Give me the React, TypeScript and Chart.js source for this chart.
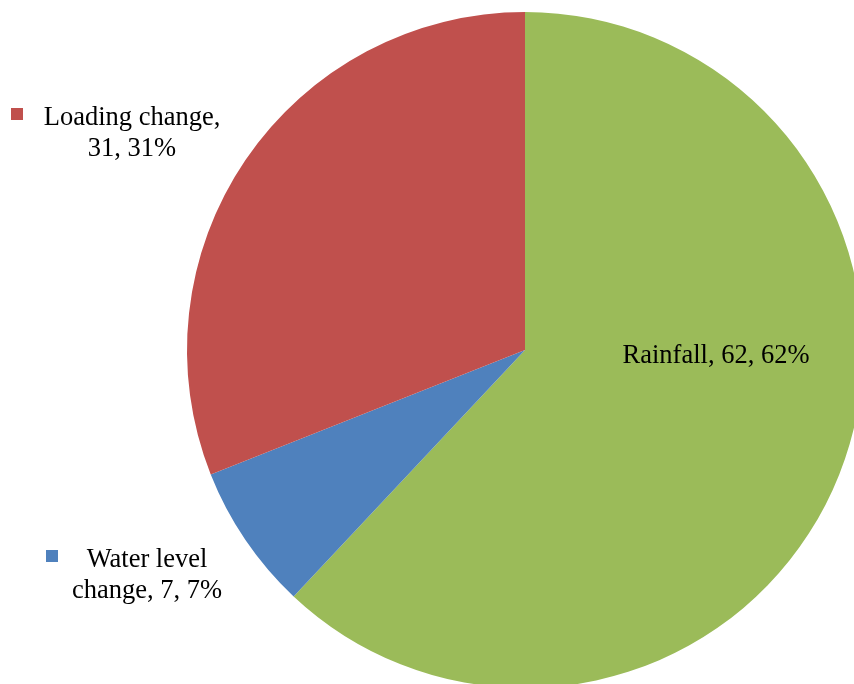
import React, { useEffect, useRef } from "react";
import { Chart, registerables } from "chart.js";

Chart.register(...registerables);

const categories = ["Rainfall", "Water level change", "Loading change"];
const values = [62, 7, 31];
const percents = [62, 7, 31];
const colors = ["#9BBB59", "#4F81BD", "#C0504D"];

type LabelSpec = { lines: string[]; cx: number; cy: number; marker?: { x: number; y: number } };

const labelSpecs: LabelSpec[] = [
  { lines: [`${categories[0]}, ${values[0]}, ${percents[0]}%`], cx: 716, cy: 356 },
  { lines: ["Water level", `change, ${values[1]}, ${percents[1]}%`], cx: 147, cy: 576, marker: { x: 46, y: 550 } },
  { lines: ["Loading change,", `${values[2]}, ${percents[2]}%`], cx: 132, cy: 134, marker: { x: 11, y: 108 } },
];

const labelPlugin = {
  id: "sliceLabels",
  afterDraw(chart: any) {
    const ctx = chart.ctx as CanvasRenderingContext2D;
    ctx.save();
    ctx.font = "26.5px 'Liberation Serif', 'Times New Roman', serif";
    ctx.fillStyle = "#000";
    ctx.textAlign = "center";
    ctx.textBaseline = "middle";
    const lh = 31;
    labelSpecs.forEach((s, i) => {
      const n = s.lines.length;
      s.lines.forEach((line, j) => {
        const y = s.cy + (j - (n - 1) / 2) * lh;
        ctx.fillText(line, s.cx, y);
      });
      if (s.marker) {
        ctx.fillStyle = colors[i];
        ctx.fillRect(s.marker.x, s.marker.y, 12, 12);
        ctx.fillStyle = "#000";
      }
    });
    ctx.restore();
  },
};

export default function App() {
  const ref = useRef<HTMLCanvasElement | null>(null);
  useEffect(() => {
    if (!ref.current) return;
    const chart = new Chart(ref.current, {
      type: "pie",
      data: {
        labels: categories,
        datasets: [
          {
            data: values,
            backgroundColor: colors,
            borderWidth: 0,
          },
        ],
      },
      options: {
        responsive: false,
        animation: false,
        layout: { padding: { left: 187, right: 17, top: 12, bottom: 12 } },
        plugins: { legend: { display: false }, tooltip: { enabled: false } },
      },
      plugins: [labelPlugin],
    });
    return () => chart.destroy();
  }, []);
  return (
    <div style={{ position: "fixed", left: 0, top: 0, width: 854, height: 684, overflow: "hidden", background: "#fff" }}>
      <canvas ref={ref} width={880} height={700} style={{ width: 880, height: 700, display: "block" }} />
    </div>
  );
}
